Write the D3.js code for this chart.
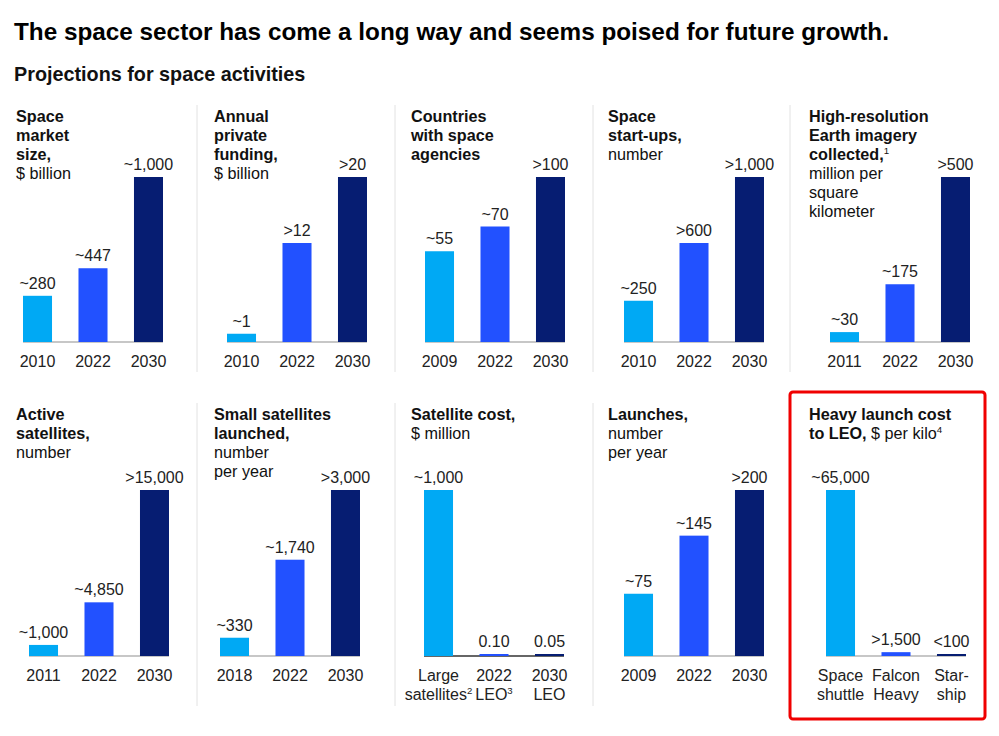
<!DOCTYPE html>
<html>
<head>
<meta charset="utf-8">
<script src="https://cdn.jsdelivr.net/npm/d3@7"></script>
<style>
  body { margin: 0; background: #fff; }
  text { font-family: "Liberation Sans", Arial, sans-serif; }
</style>
</head>
<body>
<script>
// chart texts and values, one entry per panel (top row first)
var panelTitles = [
    ["*Space*", "*market*", "*size,*", "$ billion"],
    ["*Annual*", "*private*", "*funding,*", "$ billion"],
    ["*Countries*", "*with space*", "*agencies*"],
    ["*Space*", "*start-ups,*", "number"],
    ["*High-resolution*", "*Earth imagery*", "*collected,*^1", "million per", "square", "kilometer"],
    ["*Active*", "*satellites,*", "number"],
    ["*Small satellites*", "*launched,*", "number", "per year"],
    ["*Satellite cost,*", "$ million"],
    ["*Launches,*", "number", "per year"],
    ["*Heavy launch cost*", "*to LEO,* $ per kilo^4"]
]
var panelCategories = [
    ["2010", "2022", "2030"],
    ["2010", "2022", "2030"],
    ["2009", "2022", "2030"],
    ["2010", "2022", "2030"],
    ["2011", "2022", "2030"],
    ["2011", "2022", "2030"],
    ["2018", "2022", "2030"],
    ["Large|satellites^2", "2022|LEO^3", "2030|LEO"],
    ["2009", "2022", "2030"],
    ["Space|shuttle", "Falcon|Heavy", "Star-|ship"]
]
var panelValues = [
    [280, 447, 1000],
    [1, 12, 20],
    [55, 70, 100],
    [250, 600, 1000],
    [30, 175, 500],
    [1000, 4850, 15000],
    [330, 1740, 3000],
    [1000, 0.10, 0.05],
    [75, 145, 200],
    [65000, 1500, 100]
]
var panelLabels = [
    ["~280", "~447", "~1,000"],
    ["~1", ">12", ">20"],
    ["~55", "~70", ">100"],
    ["~250", ">600", ">1,000"],
    ["~30", "~175", ">500"],
    ["~1,000", "~4,850", ">15,000"],
    ["~330", "~1,740", ">3,000"],
    ["~1,000", "0.10", "0.05"],
    ["~75", "~145", ">200"],
    ["~65,000", ">1,500", "<100"]
]

var colors = ["#00A9F4", "#2251FF", "#061D72"]

var W = 999, H = 736

var svg = d3.select("body").append("svg")
    .attr("width", W)
    .attr("height", H)

svg.append("text")
    .attr("x", 14).attr("y", 40)
    .attr("font-size", 24.3).attr("font-weight", "bold")
    .attr("fill", "#000")
    .text("The space sector has come a long way and seems poised for future growth.")

svg.append("text")
    .attr("x", 14).attr("y", 81)
    .attr("font-size", 19.8).attr("font-weight", "bold")
    .attr("fill", "#111")
    .text("Projections for space activities")

// layout for the two rows
var titleX = [16, 214, 411, 608, 809]
var rowTitleY = [122, 420]
var rowBase = [342, 656]
var rowTop = [177, 490]
var rowCatY = [367, 681]
var bandStart = [[23, 227, 425, 624, 830], [29, 220, 424, 624, 826]]
var sepX = [197, 395, 593, 790]
var sepY = [[105, 372], [403, 706]]

// draw a text line with *bold* and ^superscript parts
function richText(sel, str, size) {
    var parts = str.match(/\*[^*]+\*|\^\d|[^*^]+/g)
    parts.forEach(function (p) {
        if (p[0] == "*") {
            sel.append("tspan").attr("font-weight", "bold").text(p.slice(1, -1))
        } else if (p[0] == "^") {
            sel.append("tspan").attr("font-size", size * 0.6).attr("dy", -size * 0.4).text(p.slice(1))
            sel.append("tspan").attr("dy", size * 0.4).text("")
        } else {
            sel.append("tspan").text(p)
        }
    })
}

sepY.forEach(function (yy) {
    sepX.forEach(function (x) {
        svg.append("line")
            .attr("x1", x).attr("x2", x)
            .attr("y1", yy[0]).attr("y2", yy[1])
            .attr("stroke", "#e2e2e2").attr("stroke-width", 1)
    })
})

for (var p = 0; p < 10; p++) {
    var row = Math.floor(p / 5)
    var col = p % 5
    var g = svg.append("g")

    panelTitles[p].forEach(function (line, i) {
        var t = g.append("text")
            .attr("x", titleX[col])
            .attr("y", rowTitleY[row] + i * 19)
            .attr("font-size", 16.2)
            .attr("fill", "#111")
        richText(t, line, 16.2)
    })

    var x0 = bandStart[row][col]
    var xScale = d3.scaleBand()
        .domain(panelCategories[p])
        .range([x0, x0 + 140])
        .paddingInner(0.477)
        .paddingOuter(0)

    var yScale = d3.scaleLinear()
        .domain([0, d3.max(panelValues[p])])
        .range([rowBase[row], rowTop[row]])

    var data = panelValues[p].map(function (v, i) {
        return {cat: panelCategories[p][i], v: v, label: panelLabels[p][i], i: i}
    })

    g.append("line")
        .attr("x1", x0).attr("x2", x0 + 140)
        .attr("y1", rowBase[row]).attr("y2", rowBase[row])
        .attr("stroke", p == 7 ? "#333" : "#b5b5b5").attr("stroke-width", 1.5)

    var base = rowBase[row]
    g.selectAll("rect").data(data).enter()
        .append("rect")
        .attr("x", function (d) { return xScale(d.cat) })
        .attr("width", xScale.bandwidth())
        .attr("y", function (d) { return Math.min(yScale(d.v), base - 2) })
        .attr("height", function (d) { return Math.max(base - yScale(d.v), 2) })
        .attr("fill", function (d) { return colors[d.i] })

    g.selectAll(".val").data(data).enter()
        .append("text")
        .attr("class", "val")
        .attr("x", function (d) { return xScale(d.cat) + xScale.bandwidth() / 2 })
        .attr("y", function (d) { return Math.min(yScale(d.v), base - 2) - 7 })
        .attr("text-anchor", "middle")
        .attr("font-size", 16)
        .attr("fill", "#222")
        .text(function (d) { return d.label })

    data.forEach(function (d) {
        d.cat.split("|").forEach(function (line, k) {
            var t = g.append("text")
                .attr("x", xScale(d.cat) + xScale.bandwidth() / 2)
                .attr("y", rowCatY[row] + k * 19)
                .attr("text-anchor", "middle")
                .attr("font-size", 16)
                .attr("fill", "#222")
            richText(t, line, 16)
        })
    })
}

// highlight box round the last panel
svg.append("rect")
    .attr("x", 790).attr("y", 392)
    .attr("width", 195).attr("height", 327)
    .attr("rx", 3)
    .attr("fill", "none")
    .attr("stroke", "#f00000")
    .attr("stroke-width", 3)
</script>
</body>
</html>
